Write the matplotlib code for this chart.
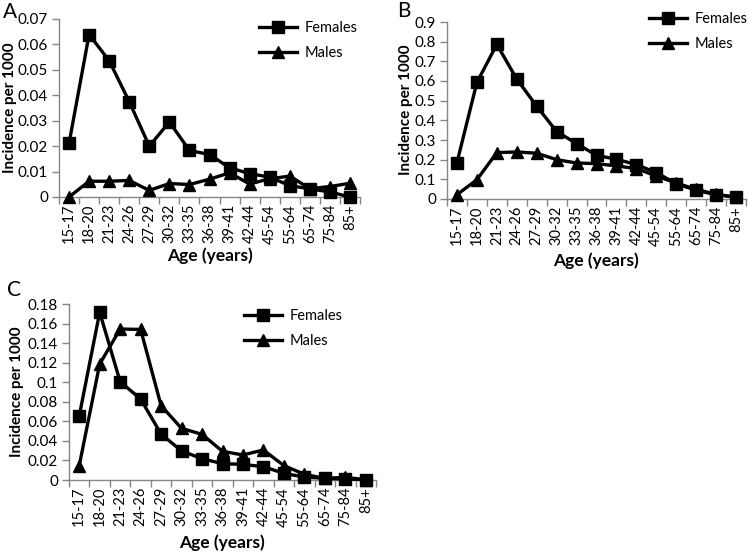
import matplotlib
matplotlib.use("Agg")
import matplotlib.pyplot as plt
import numpy as np

categories = ["15-17", "18-20", "21-23", "24-26", "27-29", "30-32", "33-35", "36-38",
              "39-41", "42-44", "45-54", "55-64", "65-74", "75-84", "85+"]

a_females = [0.0211, 0.0639, 0.0536, 0.0375, 0.0200, 0.0295, 0.0183, 0.0167,
             0.0115, 0.0092, 0.0078, 0.0045, 0.0032, 0.0020, 0.0000]
a_males = [0.0000, 0.0062, 0.0062, 0.0065, 0.0026, 0.0053, 0.0049, 0.0070,
           0.0095, 0.0051, 0.0072, 0.0082, 0.0033, 0.0041, 0.0054]

b_females = [0.185, 0.593, 0.786, 0.610, 0.472, 0.343, 0.282, 0.222,
             0.202, 0.175, 0.134, 0.078, 0.044, 0.022, 0.010]
b_males = [0.022, 0.098, 0.236, 0.239, 0.233, 0.200, 0.183, 0.180,
           0.168, 0.155, 0.117, 0.081, 0.049, 0.024, 0.008]

c_females = [0.0655, 0.1715, 0.1005, 0.0828, 0.0470, 0.0297, 0.0218, 0.0167,
             0.0160, 0.0136, 0.0068, 0.0030, 0.0017, 0.0010, 0.0003]
c_males = [0.0147, 0.1186, 0.1544, 0.1540, 0.0760, 0.0528, 0.0467, 0.0293,
           0.0256, 0.0307, 0.0147, 0.0058, 0.0017, 0.0027, 0.0003]

a_yticks = [0, 0.01, 0.02, 0.03, 0.04, 0.05, 0.06, 0.07]
a_ylabels = ["0", "0.01", "0.02", "0.03", "0.04", "0.05", "0.06", "0.07"]
b_yticks = [0, 0.1, 0.2, 0.3, 0.4, 0.5, 0.6, 0.7, 0.8, 0.9]
b_ylabels = ["0", "0.1", "0.2", "0.3", "0.4", "0.5", "0.6", "0.7", "0.8", "0.9"]
c_yticks = [0, 0.02, 0.04, 0.06, 0.08, 0.10, 0.12, 0.14, 0.16, 0.18]
c_ylabels = ["0", "0.02", "0.04", "0.06", "0.08", "0.1", "0.12", "0.14", "0.16", "0.18"]

plt.rcParams['font.family'] = ['Lato', 'DejaVu Sans']

W, H = 748, 553
fig = plt.figure(figsize=(W / 100, H / 100), dpi=100)

AX_COLOR = "#868686"


def rect(left, top, right, bottom):
    return [left / W, 1 - bottom / H, (right - left) / W, (bottom - top) / H]


def panel(r, fem, mal, yticks, ylabels, letter, letter_xy, ylab_xy, xlab_xy, leg_xy):
    ax = fig.add_axes(rect(*r))
    x = np.arange(len(categories))
    ax.plot(x, fem, color="black", lw=2.4, marker="s", ms=8.5, mfc="black", mec="black",
            label="Females", clip_on=False, zorder=3)
    ax.plot(x, mal, color="black", lw=2.4, marker="^", ms=8, mfc="black", mec="black",
            label="Males", clip_on=False, zorder=3)
    ax.set_xlim(-0.5, len(categories) - 0.5)
    ax.set_ylim(yticks[0], yticks[-1])
    ax.set_yticks(yticks)
    ax.set_yticklabels(ylabels, fontsize=11)
    ax.set_xticks(x)
    ax.set_xticklabels(categories, rotation=90, fontsize=10.5)
    ax.set_xticks(np.arange(len(categories) + 1) - 0.5, minor=True)
    ax.tick_params(axis="x", which="major", length=0, pad=5)
    ax.tick_params(axis="x", which="minor", length=5, color=AX_COLOR, width=1)
    ax.tick_params(axis="y", length=5, color=AX_COLOR, width=1, pad=3)
    for s in ["top", "right"]:
        ax.spines[s].set_visible(False)
    for s in ["left", "bottom"]:
        ax.spines[s].set_color(AX_COLOR)
        ax.spines[s].set_linewidth(1)
    ax.patch.set_alpha(0)
    fig.text(letter_xy[0] / W, 1 - letter_xy[1] / H, letter, fontsize=15,
             ha="left", va="center")
    fig.text(ylab_xy[0] / W, 1 - ylab_xy[1] / H, "Incidence per 1000", fontsize=11,
             fontweight="bold", rotation=90, ha="center", va="center")
    fig.text(xlab_xy[0] / W, 1 - xlab_xy[1] / H, "Age (years)", fontsize=12.5,
             fontweight="bold", ha="center", va="center")
    ax.legend(loc="upper left", bbox_to_anchor=(leg_xy[0] / W, 1 - leg_xy[1] / H),
              bbox_transform=fig.transFigure, frameon=False, fontsize=10.5,
              handlelength=2.6, labelspacing=0.75, handletextpad=0.5,
              borderpad=0, borderaxespad=0)
    return ax


panel((59, 19, 360, 197), a_females, a_males, a_yticks, a_ylabels, "A",
      (3, 12), (10, 108), (210, 256), (259, 21))
panel((447, 22, 746, 199), b_females, b_males, b_yticks, b_ylabels, "B",
      (397, 11), (406, 110), (596, 261), (649, 12))
panel((69, 304, 376, 480), c_females, c_males, c_yticks, c_ylabels, "C",
      (7, 290), (17, 392), (222, 543), (244, 309))

fig.savefig("out.png", dpi=100)
